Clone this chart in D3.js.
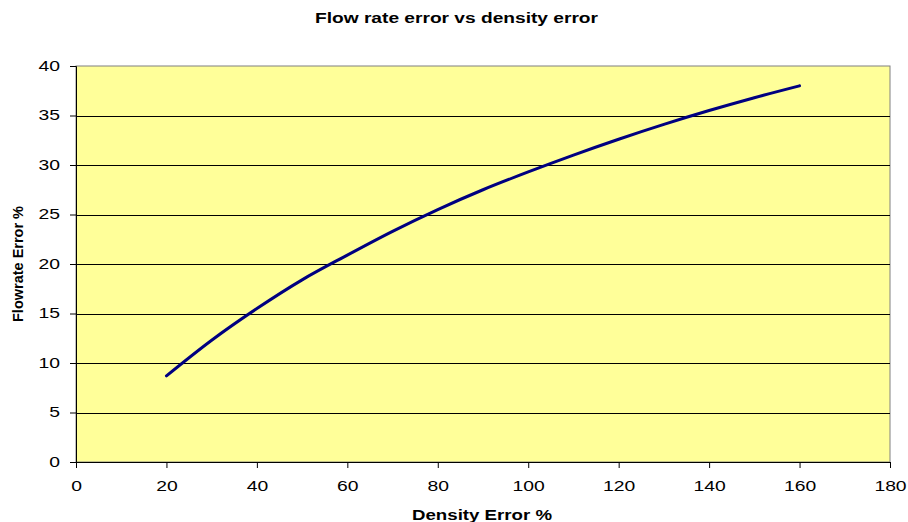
<!DOCTYPE html>
<html>
<head>
<meta charset="utf-8">
<script src="https://cdnjs.cloudflare.com/ajax/libs/d3/7.8.5/d3.min.js"></script>
<style>
  body { margin: 0; background: #fff; }
  text { font-family: "Liberation Sans", Arial, sans-serif; }
</style>
</head>
<body>
<script>
// values
var densityError = [20, 30, 40, 50, 60, 70, 80, 90, 100, 110, 120, 130, 140, 150, 160];
var flowrateError = [8.7, 12.3, 15.5, 18.4, 20.9, 23.3, 25.5, 27.5, 29.3, 31.0, 32.6, 34.1, 35.5, 36.8, 38.0];
var xTicks = [0, 20, 40, 60, 80, 100, 120, 140, 160, 180];
var yTicks = [0, 5, 10, 15, 20, 25, 30, 35, 40];

var svgWidth = 908;
var svgHeight = 522;

var margin = { top: 66, right: 18, bottom: 60, left: 76 };
var width = 890 - margin.left;
var height = 462 - margin.top;

// the reference text is stretched sideways
var stretch = 1.38;

var svg = d3.select("body")
  .append("svg")
  .attr("width", svgWidth)
  .attr("height", svgHeight);

var chartGroup = svg.append("g")
  .attr("transform", `translate(${margin.left}, ${margin.top})`);

var xScale = d3.scaleLinear().domain([0, 180]).range([0, width]);
var yScale = d3.scaleLinear().domain([0, 40]).range([height, 0]);

// plot area
chartGroup.append("rect")
  .attr("width", width)
  .attr("height", height)
  .attr("fill", "#ffff99")
  .attr("stroke", "#808080")
  .attr("stroke-width", 1);

// horizontal gridlines
chartGroup.selectAll(".grid")
  .data(yTicks.filter(d => d > 0 && d < 40))
  .enter().append("line")
  .attr("x1", 0)
  .attr("x2", width)
  .attr("y1", d => Math.round(yScale(d)) + 0.5)
  .attr("y2", d => Math.round(yScale(d)) + 0.5)
  .attr("stroke", "#000")
  .attr("stroke-width", 1);

var bottomAxis = d3.axisBottom(xScale).tickValues(xTicks).tickSize(6);
var leftAxis = d3.axisLeft(yScale).tickValues(yTicks).tickSize(6);

var xAxisG = chartGroup.append("g")
  .attr("transform", `translate(0, ${height})`)
  .call(bottomAxis);

var yAxisG = chartGroup.append("g").call(leftAxis);

[xAxisG, yAxisG].forEach(function(g) {
  g.select(".domain").attr("stroke", "#000");
  g.selectAll(".tick line").attr("stroke", "#000");
  g.selectAll(".tick text")
    .attr("fill", "#000")
    .style("font-size", "14px");
});

xAxisG.selectAll(".tick text")
  .attr("x", 0).attr("y", 0).attr("dy", 0)
  .attr("transform", `translate(0, 28.5) scale(${stretch}, 1)`);

yAxisG.selectAll(".tick text")
  .attr("x", 0)
  .attr("transform", `translate(-16, 0) scale(${stretch}, 1)`);

// line
var line = d3.line()
  .x((d, i) => xScale(densityError[i]))
  .y(d => yScale(d))
  .curve(d3.curveMonotoneX);

chartGroup.append("path")
  .datum(flowrateError)
  .attr("d", line)
  .attr("fill", "none")
  .attr("stroke", "#000080")
  .attr("stroke-width", 3)
  .attr("stroke-linecap", "round");

// titles
svg.append("text")
  .attr("x", 315)
  .attr("y", 23)
  .attr("textLength", 283)
  .attr("lengthAdjust", "spacingAndGlyphs")
  .style("font-size", "14px")
  .style("font-weight", "bold")
  .text("Flow rate error vs density error");

svg.append("text")
  .attr("x", 412)
  .attr("y", 519.5)
  .attr("textLength", 140)
  .attr("lengthAdjust", "spacingAndGlyphs")
  .style("font-size", "14px")
  .style("font-weight", "bold")
  .text("Density Error %");

svg.append("text")
  .attr("transform", "translate(22.5, 322) rotate(-90)")
  .attr("textLength", 116)
  .attr("lengthAdjust", "spacingAndGlyphs")
  .style("font-size", "14.5px")
  .style("font-weight", "bold")
  .text("Flowrate Error %");
</script>
</body>
</html>
